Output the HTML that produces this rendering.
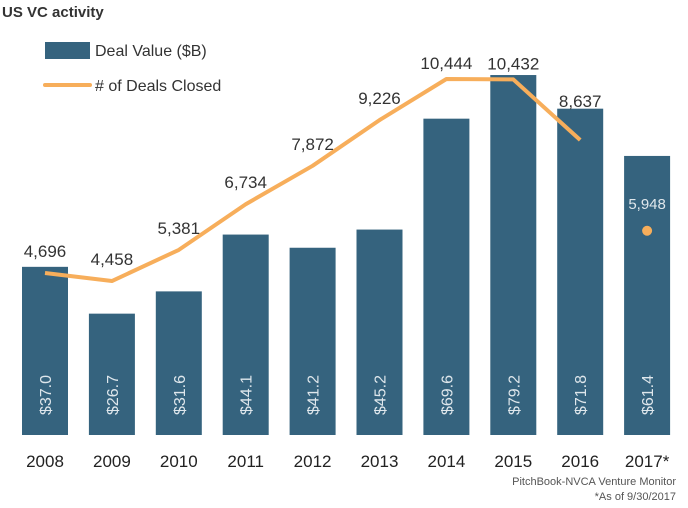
<!DOCTYPE html>
<html><head><meta charset="utf-8"><style>
html,body{margin:0;padding:0;background:#fff;}
svg{display:block;font-family:"Liberation Sans",sans-serif;}
</style></head><body>
<svg id="chart" width="688" height="508">
<text x="2" y="17" font-size="15" font-weight="bold" fill="#333">US VC activity</text>
<g>
<rect x="45" y="42" width="45" height="17" fill="#35637e"/>
<text x="95" y="56" font-size="16" fill="#333">Deal Value ($B)</text>
<line x1="45" y1="85" x2="90" y2="85" stroke="#f7ae5b" stroke-width="4" stroke-linecap="round"/>
<text x="95" y="91" font-size="16" fill="#333"># of Deals Closed</text>
</g>
<g id="bars"></g><g id="line"></g><g id="labels"></g>
<text x="676" y="485" font-size="11" fill="#555" text-anchor="end">PitchBook-NVCA Venture Monitor</text>
<text x="676" y="500" font-size="11" fill="#555" text-anchor="end">*As of 9/30/2017</text>
</svg>
<script>
const categories=["2008","2009","2010","2011","2012","2013","2014","2015","2016","2017*"];
const dealValues=[37.0,26.7,31.6,44.1,41.2,45.2,69.6,79.2,71.8,61.4];
const dealCounts=[4696,4458,5381,6734,7872,9226,10444,10432,8637,5948];
const dealLabels=["4,696","4,458","5,381","6,734","7,872","9,226","10,444","10,432","8,637","5,948"];
const NS="http://www.w3.org/2000/svg";
const base=435, x0=45, step=66.9, bw=46;
const xPos=i=>x0+i*step;
const yBar=v=>base-v*4.545;
const yLine=d=>431.5-d*0.03375;
function mk(t,a,p){const e=document.createElementNS(NS,t);for(const k in a)e.setAttribute(k,a[k]);p.appendChild(e);return e;}
const gb=document.getElementById('bars'),gl=document.getElementById('line'),gt=document.getElementById('labels');
categories.forEach((c,i)=>{
 const cx=xPos(i);
 const r=mk('rect',{x:cx-bw/2,y:yBar(dealValues[i]),width:bw,height:base-yBar(dealValues[i]),fill:'#35637e'},gb);
 
 
 const vt=mk('text',{x:0,y:0,transform:`translate(${cx+6},395) rotate(-90)`,'font-size':'16','fill':'#dfe7ec','text-anchor':'middle'},gt);
 vt.textContent='$'+dealValues[i].toFixed(1);
 
 
 const xt=mk('text',{x:cx,y:467,'font-size':'17','fill':'#222','text-anchor':'middle'},gt);
 xt.textContent=c;
 
 
});
const n=categories.length-1;
let d='';
for(let i=0;i<n;i++)d+=(i?'L':'M')+xPos(i)+','+yLine(dealCounts[i]);
const p=mk('path',{d:d,fill:'none',stroke:'#f7ae5b','stroke-width':4,'stroke-linejoin':'round'},gl);


const dot=mk('circle',{cx:xPos(n),cy:yLine(dealCounts[n]),r:5,fill:'#f7ae5b'},gl);


dealCounts.forEach((v,i)=>{
 const last=i===n;
 let off=last?22:(i===8?33:(i>=6?10:16));
 const t=mk('text',{x:xPos(i),y:yLine(v)-off,'font-size':last?'15':'17','fill':last?'#dfe7ec':'#333','text-anchor':'middle'},gt);
 t.textContent=dealLabels[i];
 
 
});
</script>
</body></html>
